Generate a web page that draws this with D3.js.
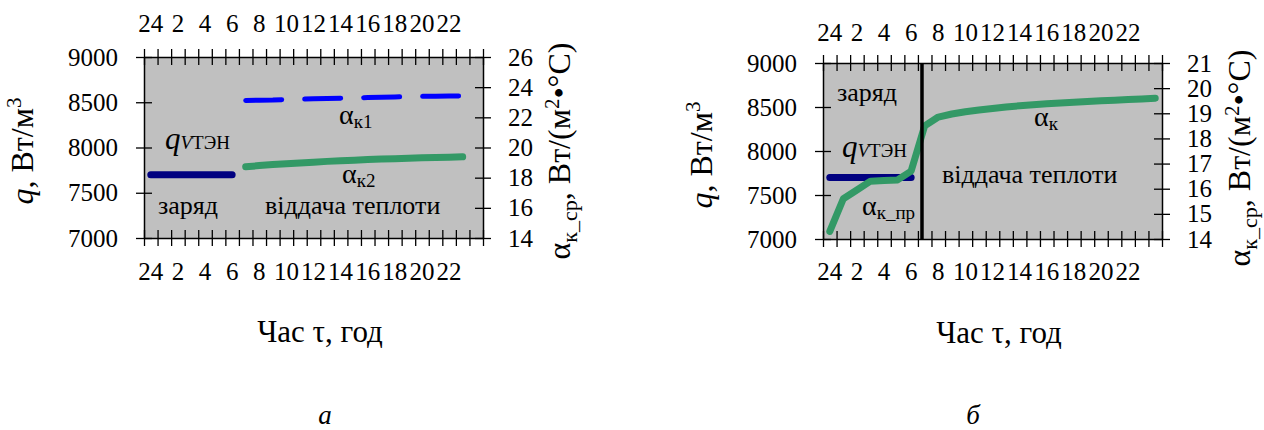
<!DOCTYPE html>
<html>
<head>
<meta charset="utf-8">
<script src="https://cdnjs.cloudflare.com/ajax/libs/d3/7.8.5/d3.min.js"></script>
<style>
  body { margin: 0; background: #fff; }
</style>
</head>
<body>
<svg id="chart" width="1264" height="430"></svg>
<script>
// hour categories on the x axis (25 cells, 24 -> 1 ... 23 -> 24)
var hourLabels = ["24","1","2","3","4","5","6","7","8","9","10","11","12",
                  "13","14","15","16","17","18","19","20","21","22","23","24"];
// categories that carry a label
var labelIdx = [0,2,4,6,8,10,12,14,16,18,20,22];

var qTicks = [7000, 7500, 8000, 8500, 9000];
var akTicksA = [14, 16, 18, 20, 22, 24, 26];
var akTicksB = [14, 15, 16, 17, 18, 19, 20, 21];

// panel a
var qVA  = [7700,7700,7700,7700,7700,7700,7700,null,null,null,null,null,null,
            null,null,null,null,null,null,null,null,null,null,null,null];
var ak1A = [null,null,null,null,null,null,null,23.12,23.14,23.15,23.18,23.2,23.23,
            23.25,23.27,23.29,23.31,23.33,23.35,23.37,23.39,23.4,23.41,23.42,null];
var ak2A = [null,null,null,null,null,null,null,18.72,18.8,18.87,18.93,18.98,19.03,
            19.08,19.12,19.16,19.2,19.23,19.26,19.29,19.32,19.34,19.36,19.38,null];

// panel b
var qVB  = [7700,7700,7700,7700,7700,7700,7700,null,null,null,null,null,null,
            null,null,null,null,null,null,null,null,null,null,null,null];
var akB  = [14.3,15.6,15.95,16.3,16.33,16.35,16.7,18.5,18.85,18.97,19.06,19.13,19.19,
            19.25,19.3,19.34,19.38,19.41,19.44,19.47,19.5,19.52,19.55,19.57,19.6];
var splitB = 6.8;   // charge / discharge boundary, in category units

var FONT = "Tinos, 'Liberation Serif', 'Times New Roman', Times, 'Noto Serif', 'DejaVu Serif', FreeSerif, serif";
var svg = d3.select("#chart");

function styleAxis(g, size) {
  g.attr("font-family", FONT).attr("font-size", size);
  g.selectAll("text").attr("font-family", FONT).attr("font-size", size).attr("fill", "#000");
  g.select(".domain").attr("stroke-width", 1.5);
  g.selectAll(".tick line").attr("stroke-width", 1.3);
}

function txt(g) {
  return g.append("text").attr("font-family", FONT).attr("fill", "#000");
}

function drawPanel(p) {
  var x = d3.scaleBand().domain(d3.range(hourLabels.length)).range([p.x0, p.x1]);
  var xEdge = d3.scaleLinear().domain([0, hourLabels.length]).range([p.x0, p.x1]);
  var xc = function (i) { return x(i) + x.bandwidth() / 2; };
  var y = d3.scaleLinear().domain([7000, 9000]).range([p.yB, p.yT]);
  var y2 = d3.scaleLinear().domain(d3.extent(p.akTicks)).range([p.yB, p.yT]);

  var g = svg.append("g");

  // grey plot area
  g.append("rect")
    .attr("x", xEdge.range()[0]).attr("y", y.range()[1])
    .attr("width", xEdge.range()[1] - xEdge.range()[0])
    .attr("height", y.range()[0] - y.range()[1])
    .attr("fill", "#c0c0c0");

  // series
  p.series.forEach(function (s) {
    var sc = s.axis == 2 ? y2 : y;
    var line = d3.line()
      .defined(function (d) { return d != null; })
      .x(function (d, i) { return xc(i); })
      .y(function (d) { return sc(d); });
    g.append("path")
      .datum(s.values)
      .attr("d", line)
      .attr("fill", "none")
      .attr("stroke", s.color)
      .attr("stroke-width", s.width)
      .attr("stroke-linecap", "round")
      .attr("stroke-linejoin", "round")
      .attr("stroke-dasharray", s.dash || null);
  });

  if (p.split != null) {
    g.append("line")
      .attr("x1", xEdge(p.split + 0.5)).attr("x2", xEdge(p.split + 0.5))
      .attr("y1", y(9000)).attr("y2", y(7000))
      .attr("stroke", "#000").attr("stroke-width", 3.5);
  }

  // top & bottom tick marks (cross style)
  var topTicks = g.append("g")
    .attr("transform", "translate(0," + p.yT + ")")
    .call(d3.axisTop(xEdge).tickValues(d3.range(hourLabels.length + 1))
      .tickFormat("").tickSize(8).tickSizeOuter(0));
  topTicks.selectAll(".tick line").attr("y1", 8);
  styleAxis(topTicks, 25);

  var botTicks = g.append("g")
    .attr("transform", "translate(0," + p.yB + ")")
    .call(d3.axisBottom(xEdge).tickValues(d3.range(hourLabels.length + 1))
      .tickFormat("").tickSize(8).tickSizeOuter(0));
  botTicks.selectAll(".tick line").attr("y1", -8);
  styleAxis(botTicks, 25);

  // category labels
  var topLab = g.append("g")
    .attr("transform", "translate(0," + p.yT + ")")
    .call(d3.axisTop(x).tickValues(labelIdx)
      .tickFormat(function (i) { return hourLabels[i]; })
      .tickSize(0).tickPadding(p.topPad));
  topLab.select(".domain").remove();
  styleAxis(topLab, 25);

  var botLab = g.append("g")
    .attr("transform", "translate(0," + p.yB + ")")
    .call(d3.axisBottom(x).tickValues(labelIdx)
      .tickFormat(function (i) { return hourLabels[i]; })
      .tickSize(0).tickPadding(p.botPad));
  botLab.select(".domain").remove();
  styleAxis(botLab, 25);

  // left axis q
  var yAx = g.append("g")
    .attr("transform", "translate(" + p.x0 + ",0)")
    .call(d3.axisLeft(y).tickValues(qTicks).tickFormat(d3.format("d"))
      .tickSize(8).tickSizeOuter(0).tickPadding(18));
  yAx.selectAll(".tick line").attr("x1", 8);
  styleAxis(yAx, 25);

  // right axis alpha
  var y2Ax = g.append("g")
    .attr("transform", "translate(" + p.x1 + ",0)")
    .call(d3.axisRight(y2).tickValues(p.akTicks).tickFormat(d3.format("d"))
      .tickSize(8).tickSizeOuter(0).tickPadding(17));
  y2Ax.selectAll(".tick line").attr("x1", -8);
  styleAxis(y2Ax, 25);

  // axis titles
  var qt = txt(g)
    .attr("transform", "translate(" + p.qTitle[0] + "," + p.qTitle[1] + ") rotate(-90)")
    .attr("text-anchor", "middle").attr("font-size", 32);
  qt.append("tspan").attr("font-style", "italic").text("q");
  qt.append("tspan").text(", Вт/м");
  qt.append("tspan").attr("dy", -12).attr("font-size", 21).text("3");

  var at = txt(g)
    .attr("transform", "translate(" + p.aTitle[0] + "," + p.aTitle[1] + ") rotate(-90)")
    .attr("text-anchor", "middle").attr("font-size", 32);
  at.append("tspan").text("α");
  at.append("tspan").attr("dy", 7).attr("font-size", 22).text("к_ср");
  at.append("tspan").attr("dy", -7).text(", Вт/(м");
  at.append("tspan").attr("dy", -11).attr("font-size", 21).text("2");
  at.append("tspan").attr("dy", 11).text("•°С)");

  txt(g)
    .attr("x", p.xTitle[0]).attr("y", p.xTitle[1])
    .attr("text-anchor", "middle").attr("font-size", 31)
    .text("Час τ, год");

  txt(g)
    .attr("x", p.letter[0]).attr("y", p.letter[1])
    .attr("text-anchor", "middle").attr("font-size", 27)
    .attr("font-style", "italic")
    .text(p.letter[2]);

  return g;
}

function plainLabel(g, x, y, s) {
  txt(g).attr("x", x).attr("y", y).attr("font-size", 26).text(s);
}

function qLabel(g, x, y) {
  var t = txt(g).attr("x", x).attr("y", y).attr("font-size", 31);
  t.append("tspan").attr("font-style", "italic").text("q");
  t.append("tspan").attr("font-size", 19).attr("font-style", "italic").text("V");
  t.append("tspan").attr("font-size", 19).text("ТЭН");
}

function alphaLabel(g, x, y, sub) {
  var t = txt(g).attr("x", x).attr("y", y).attr("font-size", 28);
  t.append("tspan").text("α");
  t.append("tspan").attr("dy", 4).attr("font-size", 19).text(sub);
}

// ---- panel a ----
var gA = drawPanel({
  x0: 144, x1: 483, yT: 57, yB: 238,
  akTicks: akTicksA, topPad: 25, botPad: 24,
  series: [
    {values: qVA, axis: 1, color: "#000080", width: 7},
    {values: ak1A, axis: 2, color: "#0000ff", width: 5, dash: "36,23"},
    {values: ak2A, axis: 2, color: "#339966", width: 7}
  ],
  qTitle: [33, 151], aTitle: [570, 151], xTitle: [320, 342], letter: [325, 424, "а"]
});
qLabel(gA, 165, 149);
plainLabel(gA, 158, 214, "заряд");
plainLabel(gA, 265, 214, "віддача теплоти");
alphaLabel(gA, 339, 124, "к1");
alphaLabel(gA, 342, 183, "к2");

// ---- panel b ----
var gB = drawPanel({
  x0: 823, x1: 1162, yT: 63, yB: 239,
  akTicks: akTicksB, topPad: 22, botPad: 23, split: splitB,
  series: [
    {values: qVB, axis: 1, color: "#000080", width: 7},
    {values: akB, axis: 2, color: "#339966", width: 7}
  ],
  qTitle: [712, 155], aTitle: [1250, 158], xTitle: [999, 343], letter: [973, 424, "б"]
});
plainLabel(gB, 837, 101, "заряд");
qLabel(gB, 842, 157);
alphaLabel(gB, 862, 215, "к_пр");
plainLabel(gB, 942, 183, "віддача теплоти");
alphaLabel(gB, 1034, 126, "к");
</script>
</body>
</html>
